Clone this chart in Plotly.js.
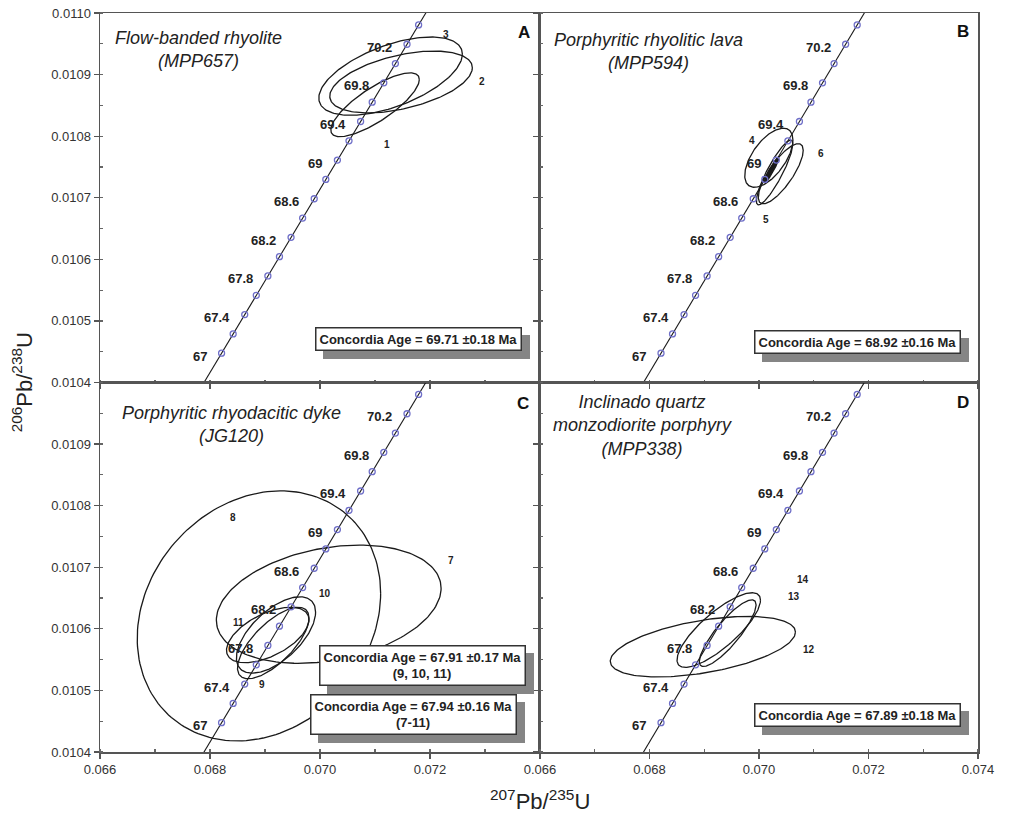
<!DOCTYPE html>
<html>
<head>
<meta charset="utf-8">
<script src="https://cdn.plot.ly/plotly-3.0.1.min.js"></script>
<style>html,body{margin:0;padding:0;background:#fff;}#chart{width:1013px;height:824px;}</style>
</head>
<body>
<div id="chart"></div>
<script>
// Concordia curve points (age in Ma, 207Pb/235U, 206Pb/238U)
const concAge = [66.6,66.8,67.0,67.2,67.4,67.6,67.8,68.0,68.2,68.4,68.6,68.8,69.0,69.2,69.4,69.6,69.8,70.0,70.2,70.4,70.6];
const concX = [0.06778990,0.06800024,0.06821063,0.06842106,0.06863152,0.06884204,0.06905258,0.06926318,0.06947382,0.06968449,0.06989521,0.07010596,0.07031676,0.07052761,0.07073848,0.07094941,0.07116037,0.07137138,0.07158243,0.07179352,0.07200465];
const concY = [0.01038488,0.01041623,0.01044758,0.01047893,0.01051028,0.01054163,0.01057299,0.01060434,0.01063569,0.01066704,0.01069840,0.01072976,0.01076112,0.01079248,0.01082384,0.01085520,0.01088657,0.01091793,0.01094929,0.01098065,0.01101202];
const markerAges = [67.0,67.2,67.4,67.6,67.8,68.0,68.2,68.4,68.6,68.8,69.0,69.2,69.4,69.6,69.8,70.0,70.2,70.4];
const labelAges = [67,67.4,67.8,68.2,68.6,69,69.4,69.8,70.2];
const labelTexts = ['67','67.4','67.8','68.2','68.6','69','69.4','69.8','70.2'];

// Error ellipses: centre, x half-extent, y half-extent, correlation
const ellPanel = ['A','A','A','B','B','B','B','C','C','C','C','C','D','D','D'];
const ellName  = ['1','2','3','4','5','6','age','7','8','9','10','11','12','13','14'];
const ellX   = [0.071001,0.071474,0.071284,0.07018,0.070285,0.070398,0.070233,0.070159,0.068890,0.06915,0.06920,0.06905,0.068975,0.069265,0.069429];
const ellSx  = [0.000805,0.001296,0.001305,0.00044,0.000333,0.00041,0.00012,0.002043,0.002213,0.00065,0.00072,0.00075,0.001691,0.000762,0.000518];
const ellY   = [0.010851,0.010888,0.0108975,0.010765,0.010741,0.010739,0.0107455,0.010640,0.010621,0.010577,0.010590,0.010590,0.010571,0.010598,0.010593];
const ellSy  = [0.0000518,0.0000502,0.0000636,0.000048,0.0000526,0.0000488,0.000019,0.000096,0.000203,0.000058,0.000062,0.000045,0.0000492,0.0000606,0.0000541];
const ellRho = [0.79,0.46,0.56,0.6,0.88,0.78,0.97,0.27,0.18,0.7,0.6,0.55,0.48,0.8,0.85];

// Ellipse number labels
const numPanel = ['A','A','A','B','B','B','C','C','C','C','C','D','D','D'];
const numText  = ['1','2','3','4','5','6','7','8','9','10','11','12','13','14'];
const numX = [0.071221,0.072939,0.072299,0.069867,0.070121,0.071138,0.072378,0.068424,0.068940,0.070096,0.068512,0.070922,0.070636,0.070806];
const numY = [0.010787,0.010889,0.010965,0.010793,0.0106655,0.010772,0.010711,0.010780,0.010509,0.010657,0.010611,0.010567,0.010652,0.010680];

// Panel texts
const panels = ['A','B','C','D'];
const panelTitles = ['Flow-banded rhyolite<br>(MPP657)','Porphyritic rhyolitic lava<br>(MPP594)','Porphyritic rhyodacitic dyke<br>(JG120)','Inclinado quartz<br>monzodiorite porphyry<br>(MPP338)'];
const ageBoxPanel = ['A','B','C','C','D'];
const ageBoxText = ['Concordia Age = 69.71 ±0.18 Ma','Concordia Age = 68.92 ±0.16 Ma','Concordia Age = 67.91 ±0.17 Ma<br>(9, 10, 11)','Concordia Age = 67.94 ±0.16 Ma<br>(7-11)','Concordia Age = 67.89 ±0.18 Ma'];

const axMap = {A:['x','y'],B:['x2','y2'],C:['x3','y3'],D:['x4','y4']};
const FONT = 'Arial, "Liberation Sans", sans-serif';

const traces = [];
const annotations = [];

panels.forEach(p => {
  const [xa, ya] = axMap[p];
  traces.push({x: concX, y: concY, mode: 'lines', xaxis: xa, yaxis: ya,
    line: {color: '#1a1a1a', width: 1.1}, hoverinfo: 'skip', showlegend: false});
});

ellX.forEach((cx, i) => {
  const [xa, ya] = axMap[ellPanel[i]];
  const xs = [], ys = [];
  const r = ellRho[i], q = Math.sqrt(1 - r * r);
  for (let j = 0; j <= 180; j++) {
    const t = 2 * Math.PI * j / 180;
    xs.push(cx + ellSx[i] * Math.cos(t));
    ys.push(ellY[i] + ellSy[i] * (r * Math.cos(t) + q * Math.sin(t)));
  }
  const isAge = ellName[i] === 'age';
  traces.push({x: xs, y: ys, mode: 'lines', xaxis: xa, yaxis: ya,
    line: {color: '#1a1a1a', width: isAge ? 2.6 : 1.3}, hoverinfo: 'skip', showlegend: false});
});

const mIdx = markerAges.map(a => concAge.findIndex(v => Math.abs(v - a) < 1e-6));
panels.forEach(p => {
  const [xa, ya] = axMap[p];
  traces.push({x: mIdx.map(i => concX[i]), y: mIdx.map(i => concY[i]), mode: 'markers',
    xaxis: xa, yaxis: ya, cliponaxis: true,
    marker: {symbol: 'circle-open', size: 6, color: '#6f6fc8', line: {width: 1.3, color: '#6f6fc8'}},
    hoverinfo: 'skip', showlegend: false});
  labelAges.forEach((a, k) => {
    const i = concAge.findIndex(v => Math.abs(v - a) < 1e-6);
    annotations.push({xref: xa, yref: ya, x: concX[i], y: concY[i], text: labelTexts[k],
      showarrow: false, xanchor: 'right', yanchor: 'middle', xshift: -13, yshift: -3,
      font: {family: FONT, size: 13, color: '#222', weight: 'bold'}});
  });
});

numText.forEach((t, i) => {
  const [xa, ya] = axMap[numPanel[i]];
  annotations.push({xref: xa, yref: ya, x: numX[i], y: numY[i], text: t, showarrow: false,
    xanchor: 'center', yanchor: 'middle',
    font: {family: FONT, size: 10, color: '#222', weight: 'bold'}});
});

const titlePos = {A:[0.225,0.902], B:[0.247,0.897], C:[0.30,0.886], D:[0.235,0.884]};
const letterPos = {A:[0.964,0.946], B:[0.966,0.949], C:[0.961,0.943], D:[0.966,0.946]};
panels.forEach((p, i) => {
  const [xa, ya] = axMap[p];
  annotations.push({xref: xa + ' domain', yref: ya + ' domain', x: titlePos[p][0], y: titlePos[p][1],
    text: '<i>' + panelTitles[i] + '</i>', showarrow: false, xanchor: 'center', yanchor: 'middle',
    font: {family: FONT, size: 18, color: '#222'}});
  annotations.push({xref: xa + ' domain', yref: ya + ' domain', x: letterPos[p][0], y: letterPos[p][1],
    text: p, showarrow: false, xanchor: 'center', yanchor: 'middle',
    font: {family: FONT, size: 17, color: '#111', weight: 'bold'}});
});

const boxPos = [[0.725,0.117],[0.726,0.110],[0.734,0.234],[0.712,0.101],[0.726,0.100]];
ageBoxText.forEach((t, i) => {
  const [xa, ya] = axMap[ageBoxPanel[i]];
  const base = {xref: xa + ' domain', yref: ya + ' domain', x: boxPos[i][0], y: boxPos[i][1],
    xanchor: 'center', yanchor: 'middle',
    text: '<b>' + t + '</b>', showarrow: false, borderpad: 3, borderwidth: 1.5, align: 'center'};
  annotations.push(Object.assign({}, base, {xshift: 8, yshift: -8, bgcolor: '#858585', bordercolor: '#858585',
    font: {family: FONT, size: 13, color: '#858585'}}));
  annotations.push(Object.assign({}, base, {bgcolor: '#ffffff', bordercolor: '#333',
    font: {family: FONT, size: 13, color: '#222'}}));
});

annotations.push({xref: 'paper', yref: 'paper', x: -0.089, y: 0.5, textangle: -90, showarrow: false,
  xanchor: 'center', yanchor: 'middle',
  text: '<sup>206</sup>Pb/<sup>238</sup>U', font: {family: FONT, size: 22, color: '#222'}});
annotations.push({xref: 'paper', yref: 'paper', x: 0.501, y: -0.065, showarrow: false,
  xanchor: 'center', yanchor: 'middle',
  text: '<sup>207</sup>Pb/<sup>235</sup>U', font: {family: FONT, size: 22, color: '#222'}});

const axCommon = {showgrid: false, zeroline: false, showline: true, mirror: true, linecolor: '#555', linewidth: 1.5,
  ticks: 'outside', ticklen: 5, tickcolor: '#555', tickwidth: 1.2,
  tickfont: {family: FONT, size: 13, color: '#333'}};
const xMinor = {dtick: 0.001, ticks: 'inside', ticklen: 3, tickcolor: '#666'};
const yMinor = {dtick: 0.00005, ticks: 'inside', ticklen: 3, tickcolor: '#666'};
const xTicksL = [0.066,0.068,0.070,0.072];
const xTicksR = [0.066,0.068,0.070,0.072,0.074];
const yTicksT = [0.0104,0.0105,0.0106,0.0107,0.0108,0.0109,0.0110];
const yTicksB = [0.0104,0.0105,0.0106,0.0107,0.0108,0.0109];
const xs = 0.5011, ys = 0.5;

const layout = {
  width: 1013, height: 824, paper_bgcolor: '#fff', plot_bgcolor: '#fff',
  margin: {l: 100, r: 35, t: 13, b: 72}, showlegend: false,
  xaxis:  Object.assign({}, axCommon, {domain: [0, xs], range: [0.066, 0.074], anchor: 'y', tickvals: xTicksL, showticklabels: false, minor: xMinor}),
  yaxis:  Object.assign({}, axCommon, {domain: [ys, 1], range: [0.0104, 0.0110], anchor: 'x', tickvals: yTicksT, tickformat: '.4f', minor: yMinor}),
  xaxis2: Object.assign({}, axCommon, {domain: [xs, 1], range: [0.066, 0.074], anchor: 'y2', tickvals: xTicksR, showticklabels: false, minor: xMinor}),
  yaxis2: Object.assign({}, axCommon, {domain: [ys, 1], range: [0.0104, 0.0110], anchor: 'x2', tickvals: yTicksT, showticklabels: false, minor: yMinor}),
  xaxis3: Object.assign({}, axCommon, {domain: [0, xs], range: [0.066, 0.074], anchor: 'y3', tickvals: xTicksL, tickformat: '.3f', minor: xMinor}),
  yaxis3: Object.assign({}, axCommon, {domain: [0, ys], range: [0.0104, 0.0110], anchor: 'x3', tickvals: yTicksB, tickformat: '.4f', minor: yMinor}),
  xaxis4: Object.assign({}, axCommon, {domain: [xs, 1], range: [0.066, 0.074], anchor: 'y4', tickvals: xTicksR, tickformat: '.3f', minor: xMinor}),
  yaxis4: Object.assign({}, axCommon, {domain: [0, ys], range: [0.0104, 0.0110], anchor: 'x4', tickvals: yTicksB, showticklabels: false, minor: yMinor}),
  annotations: annotations
};

Plotly.newPlot('chart', traces, layout, {staticPlot: true, displayModeBar: false});
</script>
</body>
</html>
